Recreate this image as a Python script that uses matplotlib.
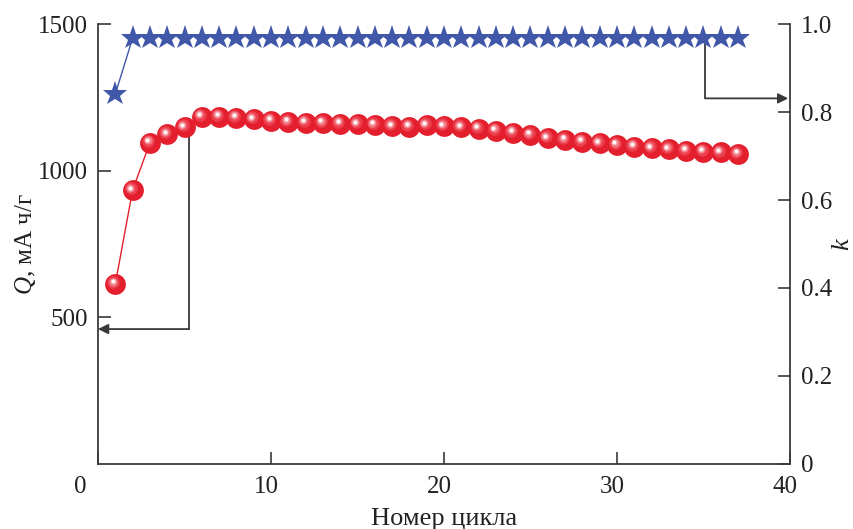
import matplotlib
matplotlib.use("Agg")
import matplotlib.pyplot as plt
import matplotlib.transforms as mtransforms

plt.rcParams['font.family'] = ['Liberation Serif', 'DejaVu Serif']
plt.rcParams['mathtext.fontset'] = 'custom'
plt.rcParams['mathtext.rm'] = 'Liberation Serif'
plt.rcParams['mathtext.it'] = 'Liberation Serif:italic'

# cycle number
cycles = list(range(1, 38))

# discharge capacity Q, mA h/g (left axis)
capacity = [614, 934, 1095, 1125, 1148, 1184, 1184, 1181, 1175, 1170,
            1166, 1164, 1163, 1160, 1158, 1156, 1151, 1150, 1155, 1152,
            1148, 1143, 1136, 1130, 1122, 1110, 1105, 1099, 1093, 1088,
            1082, 1076, 1073, 1068, 1065, 1062, 1057]

# coulombic efficiency k (right axis)
efficiency = [0.841] + [0.968] * 36

x_ticks = [0, 10, 20, 30, 40]
q_ticks = [500, 1000, 1500]
k_ticks = [0, 0.2, 0.4, 0.6, 0.8, 1.0]
k_tick_labels = ['0', '0.2', '0.4', '0.6', '0.8', '1.0']

# arrow guides: (start cycle, corner value) for each series
q_arrow_cycle, q_arrow_level = 5.25, 460
k_arrow_cycle, k_arrow_level = 35.1, 0.831

RED = '#e41f2d'
BLUE = '#4158a8'
AXIS = '#3a3a3a'
TEXT = '#222222'

fig = plt.figure(figsize=(8.54, 5.29), dpi=100)
ax = fig.add_axes([0.1148, 0.1229, 0.925 - 0.1148, 0.9546 - 0.1229])
ax2 = ax.twinx()

# red "spheres": base disc plus shifted lighter layers for the highlight
ax.plot(cycles, capacity, color=RED, lw=1.0, zorder=2)
ax.plot(cycles, capacity, 'o', ms=15.0, color=RED, mew=0, zorder=3)
layers = [(9.0, '#ec404e', 1.4), (6.0, '#f27b86', 1.7), (4.0, '#f8bcc1', 1.8), (2.2, '#ffffff', 1.8)]
for size, col, off in layers:
    tr = mtransforms.offset_copy(ax.transData, fig=fig, x=-off, y=off, units='points')
    ax.plot(cycles, capacity, 'o', ms=size, color=col, mew=0, transform=tr, zorder=4)

# stars on the right axis
ax2.plot(cycles[:2], efficiency[:2], color=BLUE, lw=1.0, zorder=2)
ax2.plot(cycles, efficiency, '*', ms=18.5, color=BLUE, mew=0, zorder=4)

# guide arrows
ax.plot([q_arrow_cycle, q_arrow_cycle], [capacity[4], q_arrow_level], color=AXIS, lw=1.3, zorder=1)
ax.annotate('', xy=(0, q_arrow_level), xytext=(q_arrow_cycle, q_arrow_level),
            arrowprops=dict(arrowstyle='-|>', color=AXIS, lw=1.3, mutation_scale=15,
                            shrinkA=0, shrinkB=0), zorder=1)
ax2.plot([k_arrow_cycle, k_arrow_cycle], [efficiency[34], k_arrow_level], color=AXIS, lw=1.3, zorder=1)
ax2.annotate('', xy=(39.9, k_arrow_level), xytext=(k_arrow_cycle, k_arrow_level),
             arrowprops=dict(arrowstyle='-|>', color=AXIS, lw=1.3, mutation_scale=15,
                             shrinkA=0, shrinkB=0), zorder=1)

ax.set_xlim(0, 40)
ax.set_ylim(0, 1500)
ax2.set_ylim(0, 1.0)

ax.set_xticks(x_ticks)
ax.set_yticks(q_ticks)
ax2.set_yticks(k_ticks)
ax2.set_yticklabels(k_tick_labels)

for a in (ax, ax2):
    a.spines['top'].set_visible(False)
    for s in a.spines.values():
        s.set_color(AXIS)
        s.set_linewidth(1.3)
ax.spines['right'].set_visible(False)
ax2.spines['left'].set_visible(False)
ax2.spines['bottom'].set_visible(False)

ax.tick_params(axis='both', direction='in', length=9, width=1.2, color=AXIS,
               labelsize=18, labelcolor=TEXT)
ax.tick_params(axis='x', pad=9)
ax.tick_params(axis='y', pad=7)
ax2.tick_params(axis='y', direction='in', length=9, width=1.2, color=AXIS,
                labelsize=18, labelcolor=TEXT, pad=8)

# x tick labels sit slightly left of their ticks in the original
for lab in ax.get_xticklabels():
    shift = -0.18 if lab.get_text() == '0' else -0.05
    lab.set_transform(lab.get_transform() + mtransforms.ScaledTranslation(shift, 0, fig.dpi_scale_trans))

ax.set_xlabel('Номер цикла', fontsize=19, labelpad=7, color=TEXT)
ax.set_ylabel('$Q$, мА ч/г', fontsize=18, labelpad=0, color=TEXT)
ax2.set_ylabel('$k$', fontsize=19, labelpad=0, color=TEXT)

fig.savefig('out.png', dpi=100)
